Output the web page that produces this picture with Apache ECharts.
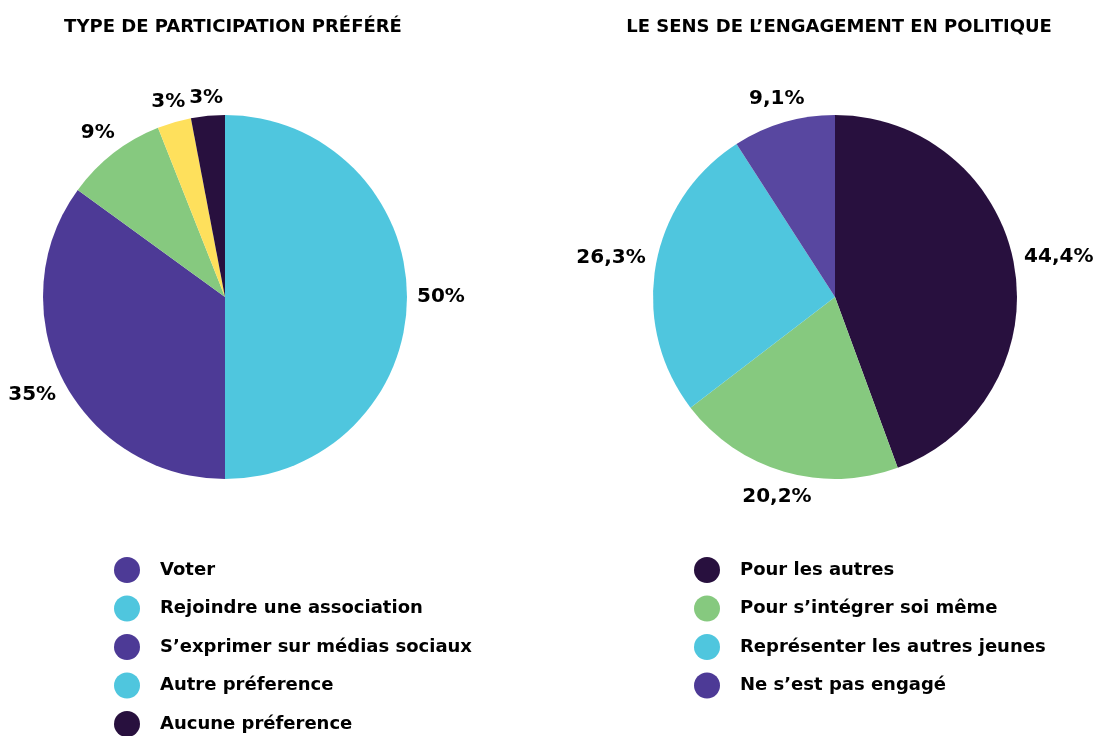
<!DOCTYPE html>
<html>
<head>
<meta charset="utf-8">
<script src="https://cdn.jsdelivr.net/npm/echarts@6/dist/echarts.min.js"></script>
<style>
  html, body { margin: 0; padding: 0; background: #fff; }
  #chart { width: 1097px; height: 736px; }
</style>
</head>
<body>
<div id="chart"></div>
<script>
// données - participation
var typeNames = ['Voter', 'Rejoindre une association', 'S\u2019exprimer sur médias sociaux', 'Autre préference', 'Aucune préference'];
var typeValues = [50, 35, 9, 3, 3];
var typeLabels = ['50%', '35%', '9%', '3%', '3%'];

// données - engagement
var sensNames = ['Pour les autres', 'Pour s\u2019intégrer soi même', 'Représenter les autres jeunes', 'Ne s\u2019est pas engagé'];
var sensValues = [44.4, 20.2, 26.3, 9.1];
var sensLabels = ['44,4%', '20,2%', '26,3%', '9,1%'];

var FONT = 'DejaVu Sans';
var cyan = '#4fc6de', purple = '#4d3a96', green = '#86c97f', yellow = '#fee05c', dark = '#28103e';

var typeSliceColors = [cyan, purple, green, yellow, dark];
var typeLegendColors = [purple, cyan, purple, cyan, dark]; // tel quel dans l'original
var sensSliceColors = [dark, green, cyan, '#5847a0'];
var sensLegendColors = [dark, green, cyan, purple];

var RADIUS = 182;
var centers = [[225, 297], [835, 297]];
var allValues = [typeValues, sensValues];

function buildData(names, values, labels, colors) {
    var out = [];
    for (var i = 0; i < names.length; ++i) {
        out.push({name: names[i], value: values[i], label: {formatter: labels[i]}, itemStyle: {color: colors[i]}});
    }
    return out;
}

function buildLegend(names, colors) {
    var out = [];
    for (var i = 0; i < names.length; ++i) {
        out.push({name: names[i], itemStyle: {color: colors[i]}});
    }
    return out;
}

// étiquette posée juste à l'extérieur du secteur, sur l'angle médian
function placeLabel(params) {
    var vals = allValues[params.seriesIndex];
    var total = 0, before = 0;
    for (var i = 0; i < vals.length; ++i) {
        total += vals[i];
        if (i < params.dataIndex) before += vals[i];
    }
    var a = (before + vals[params.dataIndex] / 2) / total * Math.PI * 2;
    var ux = Math.sin(a), uy = -Math.cos(a);
    var w = params.labelRect.width, h = params.labelRect.height;
    var d = RADIUS + 10 + Math.abs(ux) * w / 2 + Math.abs(uy) * h / 3;
    var c = centers[params.seriesIndex];
    return {x: c[0] + ux * d, y: c[1] + uy * d, align: 'center', verticalAlign: 'middle'};
}

var legendBase = {
    orient: 'vertical',
    icon: 'circle',
    padding: 0,
    height: 300,
    itemWidth: 26,
    itemHeight: 26,
    itemGap: 12.5,
    selectedMode: false,
    textStyle: {fontFamily: FONT, fontWeight: 'bold', fontSize: 18, color: '#000', padding: [0, 0, 0, 15]}
};

var pieBase = {
    type: 'pie',
    radius: RADIUS,
    startAngle: 90,
    clockwise: true,
    avoidLabelOverlap: false,
    silent: true,
    label: {show: true, position: 'outside', fontFamily: FONT, fontWeight: 'bold', fontSize: 20, color: '#000'},
    labelLine: {show: false},
    labelLayout: placeLabel
};

var chart = echarts.init(document.getElementById('chart'));
var option = {
    animation: false,
    title: [
        {text: 'TYPE DE PARTICIPATION PRÉFÉRÉ', left: 228, top: 13, textAlign: 'center',
            textStyle: {fontFamily: FONT, fontWeight: 'bold', fontSize: 18, color: '#000'}},
        {text: 'LE SENS DE L\u2019ENGAGEMENT EN POLITIQUE', left: 834, top: 13, textAlign: 'center',
            textStyle: {fontFamily: FONT, fontWeight: 'bold', fontSize: 18, color: '#000'}}
    ],
    legend: [
        Object.assign({}, legendBase, {left: 114, top: 557, data: buildLegend(typeNames, typeLegendColors)}),
        Object.assign({}, legendBase, {left: 694, top: 557, data: buildLegend(sensNames, sensLegendColors)})
    ],
    series: [
        Object.assign({}, pieBase, {center: centers[0], data: buildData(typeNames, typeValues, typeLabels, typeSliceColors)}),
        Object.assign({}, pieBase, {center: centers[1], data: buildData(sensNames, sensValues, sensLabels, sensSliceColors)})
    ]
};
chart.setOption(option);
</script>
</body>
</html>
